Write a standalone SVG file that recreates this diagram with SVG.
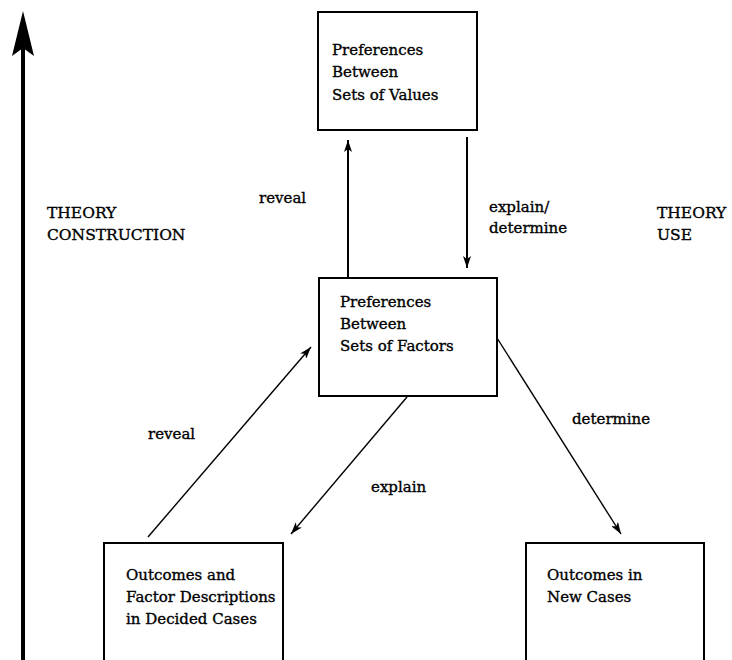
<svg xmlns="http://www.w3.org/2000/svg" width="732" height="660" viewBox="0 0 732 660">
<style>
text{font-family:"DejaVu Serif","Liberation Serif",serif;font-size:15px;fill:#000;stroke:#000;stroke-width:0.35}
.cap{font-size:15.5px}
.box{fill:#fff;stroke:#000;stroke-width:2}
.v{stroke:#000;stroke-width:2;fill:none}
.d{stroke:#000;stroke-width:1.4;fill:none}
</style>
<defs>
<marker id="ah" markerUnits="userSpaceOnUse" viewBox="0 0 12 8" refX="12" refY="4" markerWidth="12" markerHeight="8" orient="auto">
<path d="M0,0 L12,4 L0,8 L3,4 Z" fill="#000"/>
</marker>
</defs>
<g id="axis">
<line x1="23" y1="660" x2="23" y2="48" stroke="#000" stroke-width="4"/>
<polygon points="23,11 34,56 23,48 12,56" fill="#000"/>
<text class="cap" x="47" y="218">THEORY</text>
<text class="cap" x="47" y="240">CONSTRUCTION</text>
<text class="cap" x="657" y="218">THEORY</text>
<text class="cap" x="657" y="240">USE</text>
</g>
<g id="values">
<rect class="box" x="318" y="12" width="159" height="118"/>
<text x="332" y="55">Preferences</text>
<text x="332" y="77">Between</text>
<text x="332" y="100">Sets of Values</text>
</g>
<g id="factors">
<rect class="box" x="319" y="278" width="178" height="118"/>
<text x="340" y="307">Preferences</text>
<text x="340" y="329">Between</text>
<text x="340" y="351">Sets of Factors</text>
</g>
<g id="decided">
<rect class="box" x="104" y="543" width="179" height="130"/>
<text x="126" y="580">Outcomes and</text>
<text x="126" y="602">Factor Descriptions</text>
<text x="126" y="624">in Decided Cases</text>
</g>
<g id="newcases">
<rect class="box" x="526" y="543" width="178" height="130"/>
<text x="547" y="580">Outcomes in</text>
<text x="547" y="602">New Cases</text>
</g>
<g id="connectors">
<line class="v" x1="348" y1="278" x2="348" y2="140" marker-end="url(#ah)"/>
<line class="v" x1="467" y1="137" x2="467" y2="268" marker-end="url(#ah)"/>
<line class="d" x1="148" y1="537" x2="311" y2="347" marker-end="url(#ah)"/>
<line class="d" x1="407" y1="397" x2="291" y2="534" marker-end="url(#ah)"/>
<line class="d" x1="497" y1="338" x2="621" y2="534" marker-end="url(#ah)"/>
<text x="259" y="203">reveal</text>
<text x="489" y="212">explain/</text>
<text x="489" y="233">determine</text>
<text x="148" y="439">reveal</text>
<text x="371" y="492">explain</text>
<text x="572" y="424">determine</text>
</g>
</svg>
